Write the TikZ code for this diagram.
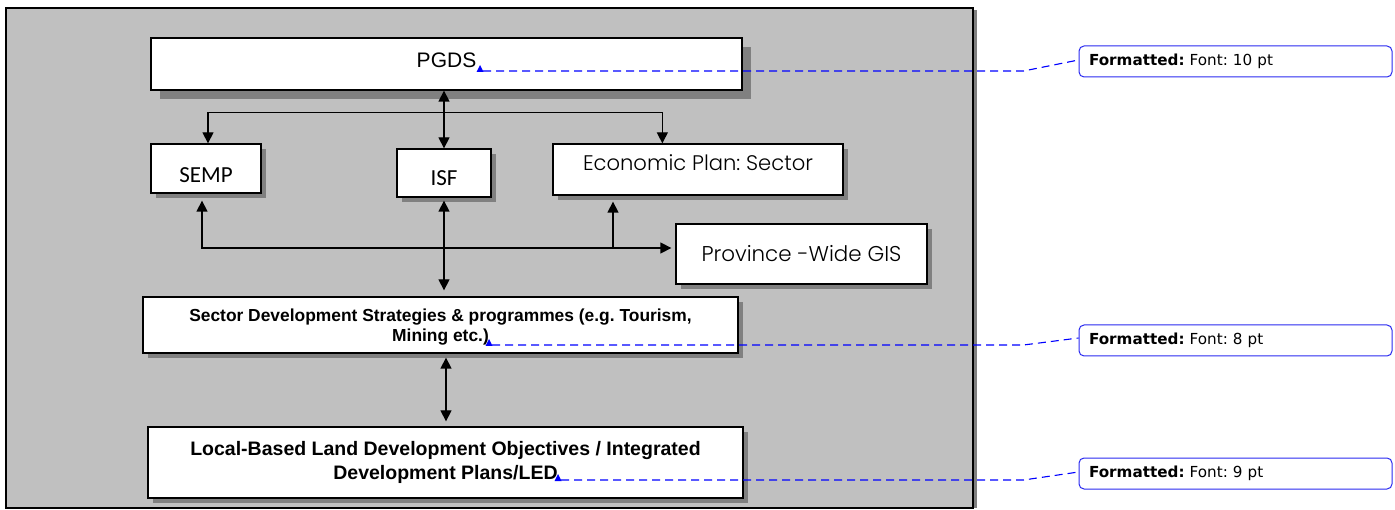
\documentclass[tikz,border=0pt]{standalone}
\usepackage{fontspec}
\setmainfont{Liberation Sans}
\newfontfamily\gothic{Poppins}[UprightFont=* Light]
\newfontfamily\gill{Carlito}
\newfontfamily\notefont{DejaVu Sans}
\usetikzlibrary{arrows.meta,shadows,calc}
\frenchspacing

\definecolor{framegray}{HTML}{C0C0C0}
\definecolor{shadowgray}{HTML}{808080}
\definecolor{markblue}{HTML}{0000FF}
\definecolor{noteblue}{HTML}{2A2AF0}

\tikzset{
  shadowed/.style={general shadow={fill=shadowgray, shadow xshift=#1, shadow yshift=-#1}},
  box/.style={draw=black, line width=1.3pt, fill=white, inner sep=0pt, align=center},
  arr/.style={line width=1.3pt, -{Triangle[length=11pt,width=11pt]}},
  dbl/.style={line width=1.3pt, {Triangle[length=11pt,width=11pt]}-{Triangle[length=11pt,width=11pt]}},
  cmt/.style={draw=markblue, line width=1.1pt, dash pattern=on 8pt off 5pt},
  note/.style={draw=noteblue, line width=1pt, rounded corners=5pt, fill=white,
    minimum width=313pt, minimum height=31pt, inner xsep=10pt, inner ysep=0pt,
    text width=293pt, align=left, font=\notefont\fontsize{15.2}{18}\selectfont},
}

\begin{document}
\begin{tikzpicture}[x=1pt, y=-1pt]
\useasboundingbox (0,0) rectangle (1395,510);

% grey panel holding the planning hierarchy
\fill[shadowgray] (974,10) rectangle (977,508);
\draw[fill=framegray, line width=1.6pt] (6,8) rectangle (973,508);

% boxes
\node[box, shadowed=9pt, minimum width=591pt, minimum height=52pt, text depth=7pt,
      font=\fontsize{21}{25}\selectfont] (pgds) at (446.5,64) {PGDS};
\node[box, shadowed=5pt, minimum width=110pt, minimum height=49pt, text height=29pt, text depth=0pt,
      font=\gill\fontsize{23}{27}\selectfont] (semp) at (206,168.5) {SEMP};
\node[box, shadowed=5pt, minimum width=94pt, minimum height=48pt, text height=26pt, text depth=0pt,
      font=\gill\fontsize{23}{27}\selectfont] (isf) at (444,173) {ISF};
\node[box, shadowed=5pt, minimum width=290pt, minimum height=51pt, text depth=14pt,
      font=\gothic\fontsize{21.1}{25}\selectfont] (econ) at (698,169.5) {Economic Plan: Sector};
\node[box, shadowed=5pt, minimum width=251pt, minimum height=60pt,
      font=\gothic\fontsize{21.4}{25}\selectfont] (prov) at (801.5,254) {Province -Wide GIS};
\node[box, shadowed=5pt, minimum width=595pt, minimum height=56pt,
      font=\bfseries\fontsize{17.4}{20}\selectfont] (sector) at (440.5,325)
      {\rule{0pt}{17pt}Sector Development Strategies \& programmes (e.g. Tourism,\\Mining etc.)};
\node[box, shadowed=5pt, minimum width=595pt, minimum height=71pt,
      font=\bfseries\fontsize{19.5}{24}\selectfont] (local) at (445.5,462.5)
      {Local-Based Land Development Objectives / Integrated\\Development Plans/LED};

% connectors
\draw[dbl] (isf.north) -- (isf.north |- pgds.south);
\draw[dbl] ($(semp.north)+(2,0)$) -- ++(0,-31) -| ($(econ.north west)+(110,0)$);
\draw[dbl, shorten >=6pt, shorten <=3pt] (isf.south) -- (isf.south |- sector.north);
\coordinate (gisrow) at ($(prov.west)+(-4,-6)$);
\draw[dbl] ($(semp.south)+(-4,7)$) |- (gisrow);
\coordinate (econfoot) at ($(econ.south)+(-85,6)$);
\draw[arr] (econfoot |- gisrow) -- (econfoot);
\coordinate (sfoot) at ($(sector.south)+(5.5,4)$);
\draw[dbl, shorten >=5pt] (sfoot) -- (sfoot |- local.north);

% change marks and their comment balloons
\coordinate (a1) at (480,71);
\coordinate (a2) at (489,345);
\coordinate (a3) at (558,480);
\foreach \m in {a1,a2,a3}
  \fill[markblue] ($(\m)+(-3.5,1)$) -- ($(\m)+(3.5,1)$) -- ($(\m)+(0,-6)$) -- cycle;

\node[note] (n1) at (1235.5,61.5) {\textbf{Formatted:} Font: 10 pt};
\node[note] (n2) at (1235.5,340.5) {\textbf{Formatted:} Font: 8 pt};
\node[note] (n3) at (1235.5,473.5) {\textbf{Formatted:} Font: 9 pt};

\draw[cmt] ($(a1)+(3,0)$) -- ($(a1 -| n1.west)+(-55,0)$) -- ($(n1.west)+(0,-1.5)$);
\draw[cmt] ($(a2)+(3,0)$) -- ($(a2 -| n2.west)+(-55,0)$) -- ($(n2.west)+(0,-2.5)$);
\draw[cmt] ($(a3)+(3,0)$) -- ($(a3 -| n3.west)+(-55,0)$) -- ($(n3.west)+(0,-1.5)$);
\end{tikzpicture}
\end{document}
